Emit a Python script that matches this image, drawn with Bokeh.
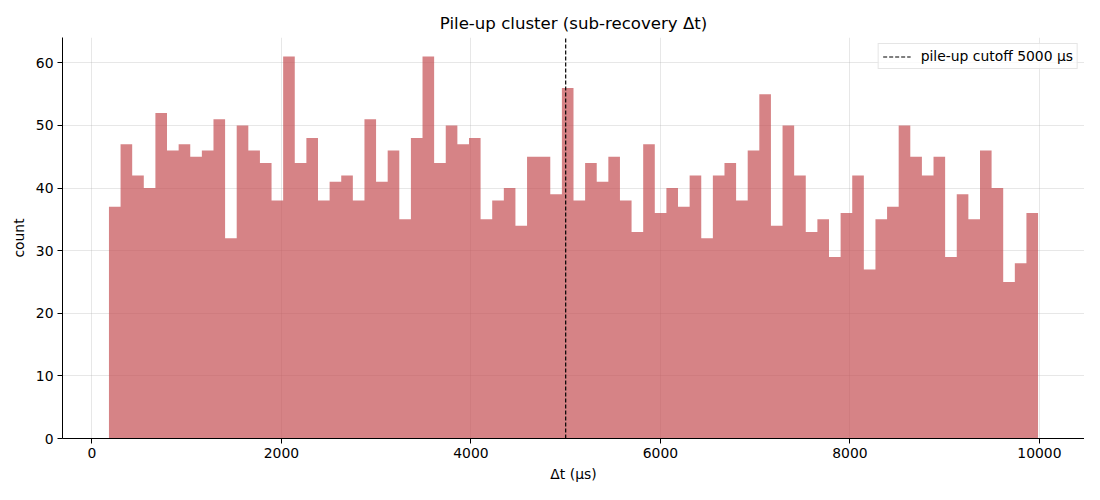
import numpy as np
from bokeh.plotting import figure
from bokeh.models import Range1d, FixedTicker, Legend, LegendItem
from bokeh.embed import file_html
from bokeh.resources import INLINE

# ---- data ----
counts = [37, 47, 42, 40, 52, 46, 47, 45, 46, 51,
          32, 50, 46, 44, 38, 61, 44, 48, 38, 41,
          42, 38, 51, 41, 46, 35, 48, 61, 44, 50,
          47, 48, 35, 38, 40, 34, 45, 45, 39, 56,
          38, 44, 41, 45, 38, 33, 47, 36, 40, 37,
          42, 32, 42, 44, 38, 46, 55, 34, 50, 42,
          33, 35, 29, 36, 42, 27, 35, 37, 50, 45,
          42, 45, 29, 39, 35, 46, 40, 25, 28, 36]
dt_min = 180.0
dt_max = 9985.0
cutoff = 5000
x_ticks = [0, 2000, 4000, 6000, 8000, 10000]
y_ticks = [0, 10, 20, 30, 40, 50, 60]

edges = np.linspace(dt_min, dt_max, len(counts) + 1)
step_tops = list(counts) + [counts[-1]]
span = dt_max - dt_min
x_lo, x_hi = dt_min - 0.05 * span, dt_max + 0.05 * span
y_hi = max(counts) * 1.05

FONT = "DejaVu Sans"

p = figure(width=1084, height=484, output_backend="svg", toolbar_location=None,
           x_range=Range1d(x_lo, x_hi), y_range=Range1d(0, y_hi),
           min_border_left=62, min_border_right=0, min_border_top=37, min_border_bottom=42)
p.outline_line_color = None
p.background_fill_color = "white"
p.border_fill_color = "white"

p.title.text = "Pile-up cluster (sub-recovery \u0394t)"
p.title.align = "center"
p.title.text_font = FONT
p.title.text_font_size = "16.6px"
p.title.text_font_style = "normal"
p.title.text_color = "black"
p.title.standoff = 10

# grid
for g in (p.xgrid, p.ygrid):
    g.grid_line_color = "#b0b0b0"
    g.grid_line_alpha = 0.3
    g.grid_line_width = 1
p.xgrid.ticker = FixedTicker(ticks=x_ticks)
p.ygrid.ticker = FixedTicker(ticks=y_ticks)

# histogram bars (one step-shaped area, no seams between bins)
p.varea_step(x=edges, y1=np.zeros(len(edges)), y2=step_tops, step_mode="after",
             fill_color="#c44e52", fill_alpha=0.7)

# cutoff line
cut = p.segment(x0=[cutoff], y0=[0], x1=[cutoff], y1=[y_hi],
                line_color="black", line_width=1.2, line_dash="4 2")

legend = Legend(items=[LegendItem(label="pile-up cutoff 5000 \u00b5s", renderers=[cut])],
                location="top_right")
legend.label_text_font = FONT
legend.label_text_font_size = "13.9px"
legend.label_text_color = "black"
legend.border_line_color = "#cccccc"
legend.border_line_width = 1
legend.background_fill_alpha = 0.8
legend.margin = 6
legend.padding = 4
legend.spacing = 0
legend.label_height = 15
legend.glyph_height = 15
legend.glyph_width = 28
legend.label_standoff = 10
p.add_layout(legend)

# axes
for ax in (p.xaxis, p.yaxis):
    ax.axis_line_color = "black"
    ax.axis_line_width = 1
    ax.major_tick_line_color = "black"
    ax.major_tick_in = 0
    ax.major_tick_out = 5
    ax.minor_tick_line_color = None
    ax.major_label_text_font = FONT
    ax.major_label_text_font_size = "13.9px"
    ax.major_label_text_color = "black"
    ax.axis_label_text_font = FONT
    ax.axis_label_text_font_size = "13.9px"
    ax.axis_label_text_font_style = "normal"
    ax.axis_label_text_color = "black"
p.xaxis.ticker = FixedTicker(ticks=x_ticks)
p.yaxis.ticker = FixedTicker(ticks=y_ticks)
p.xaxis.axis_label = "\u0394t (\u00b5s)"
p.yaxis.axis_label = "count"
p.xaxis.major_label_standoff = 4
p.yaxis.major_label_standoff = 4
p.xaxis.axis_label_standoff = 5
p.yaxis.axis_label_standoff = 6

open("out.html", "w").write(file_html(p, INLINE))
